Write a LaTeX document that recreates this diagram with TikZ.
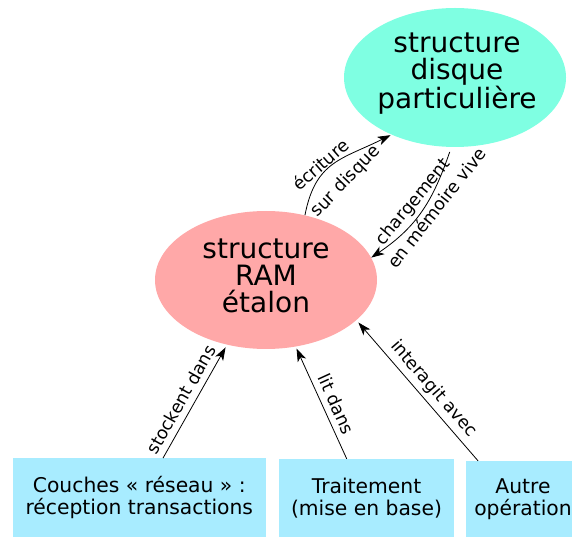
\documentclass[tikz,border=0pt]{standalone}
\usepackage{fontspec}
\setmainfont{DejaVu Sans}
\usetikzlibrary{shapes.geometric,arrows.meta}
\definecolor{diskcol}{HTML}{7FFFE2}
\definecolor{ramcol}{HTML}{FFA8A8}
\definecolor{boxcol}{HTML}{A8ECFF}

\begin{document}
\begin{tikzpicture}[x=1pt,y=1pt,
  bubble/.style={ellipse, inner sep=0pt, draw=none},
  bubbletext/.style={font=\fontsize{28}{27}\selectfont, align=center, inner sep=0pt},
  srcbox/.style={rectangle, fill=boxcol, inner sep=0pt, align=center,
    font=\fontsize{20.3}{21.5}\selectfont},
  link/.style={-{Stealth[length=13pt,width=9pt,inset=3.5pt]}, line width=0.8pt},
  lbltext/.style={font=\fontsize{17.5}{18}\selectfont},
  lbl/.style={lbltext, sloped, inner sep=1pt}]
\useasboundingbox (0,0) rectangle (572,538);

% the two data structures
\node[bubble, fill=diskcol, minimum width=222pt, minimum height=139pt] (disk) at (455,460.5) {};
\node[bubbletext] (disktext) at (457,464.5) {structure\\disque\\particulière};
\node[bubble, fill=ramcol, minimum width=222pt, minimum height=138pt] (ram) at (266,258) {};
\node[bubbletext] (ramtext) at (266,262) {structure\\RAM\\étalon};

% the three clients at the bottom
\node[srcbox, minimum width=253pt, minimum height=78.7pt] (net) at (139.3,40.35)
  {Couches « réseau » :\\réception transactions};
\node[srcbox, minimum width=175pt, minimum height=78pt] (proc) at (366.5,40)
  {Traitement\\(mise en base)};
\node[srcbox, minimum width=114pt, minimum height=76pt] (other) at (523,39)
  {Autre\\opération};

% exchanges between RAM and disk (labels follow the chord of each arc)
\draw[link, shorten >=1pt] (ram.59) to[out=79, in=206.5, looseness=1.2]
  node[lbltext, pos=0.4, rotate=41, anchor=south, inner sep=0.5pt] {écriture}
  node[lbltext, pos=0.46, rotate=46, anchor=north, inner sep=13pt] {sur disque}
  (disk.222);
\draw[link, shorten <=5pt] (disk.267) to[out=251, in=34, looseness=1.05]
  node[lbltext, pos=0.49, rotate=50.4, anchor=south, inner sep=2.5pt] {chargement}
  node[lbltext, pos=0.41, rotate=52, anchor=north, inner sep=3pt] {en mémoire vive}
  (ram.12.5);

% accesses from the clients
\draw[link, shorten >=3pt] ([xshift=23.7pt]net.north) --
  node[lbl, above, pos=0.46, inner sep=6pt] {stockent dans} (ram.239);
\draw[link, shorten >=2pt] ([xshift=-19.8pt]proc.north) --
  node[lbl, above, pos=0.44, inner sep=6pt] {lit dans} (ram.294);
\draw[link, shorten >=3pt] ([xshift=-45pt]other.north) --
  node[lbl, above, pos=0.45, inner sep=4.5pt] {interagit avec} (ram.-24);
\end{tikzpicture}
\end{document}
